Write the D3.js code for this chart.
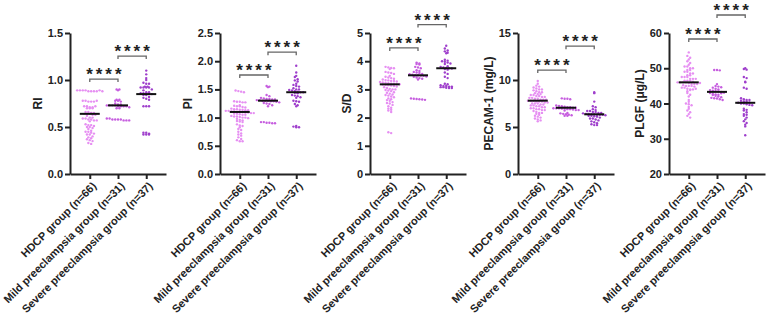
<!DOCTYPE html>
<html>
<head>
<meta charset="utf-8">
<script src="https://cdn.jsdelivr.net/npm/d3@7"></script>
<style>
  html, body { margin: 0; padding: 0; background: #fff; }
  svg { display: block; font-family: Arial, "Liberation Sans", sans-serif; }
  .axis path, .axis line { stroke: #222; stroke-width: 2; }
  .axis text { font-size: 11px; font-weight: bold; fill: #222; }
  .ytitle { font-size: 12px; font-weight: bold; fill: #222; }
  .stars { font-size: 17px; font-weight: bold; fill: #222; letter-spacing: 3px; }
</style>
</head>
<body>
<div id="chart"></div>
<script>
const categories = ["HDCP group (n=66)", "Mild preeclampsia group (n=31)", "Severe preeclampsia group (n=37)"];
const groupColors = ["#e68ff2", "#c65ddf", "#9f3fcc"];

// RI
const riHDCP = [0.89,0.89,0.89,0.89,0.88,0.88,0.88,0.88,0.89,0.88,0.78,0.78,0.77,0.77,0.77,0.78,
  0.72,0.72,0.71,0.70,0.70,0.71,0.70,0.72,0.66,0.66,0.65,0.65,0.64,0.64,0.64,0.63,0.63,0.62,
  0.60,0.60,0.59,0.59,0.58,0.58,0.57,0.57,0.56,0.53,0.52,0.52,0.51,0.50,0.50,0.49,0.48,
  0.46,0.45,0.45,0.44,0.43,0.42,0.42,0.40,0.39,0.38,0.37,0.36,0.35,0.33,0.32];
const riMild = [0.90,0.90,0.89,0.79,0.79,0.78,0.78,0.77,0.75,0.74,0.74,0.73,0.73,0.73,0.73,0.72,
  0.72,0.72,0.72,0.71,0.70,0.70,0.59,0.59,0.58,0.58,0.58,0.58,0.57,0.57,0.57];
const riSevere = [1.10,1.06,1.02,1.00,0.97,0.96,0.96,0.93,0.93,0.92,0.92,0.92,0.92,0.90,0.89,
  0.87,0.87,0.86,0.86,0.85,0.85,0.85,0.84,0.84,0.82,0.81,0.80,0.79,0.72,0.72,0.72,
  0.44,0.44,0.43,0.42,0.42,0.42];
const riMeans = [0.64, 0.73, 0.85];
const riTicks = [0, 0.5, 1.0, 1.5];

// PI
const piHDCP = [1.48,1.47,1.46,1.45,1.29,1.28,1.28,1.27,1.27,1.22,1.21,1.20,1.20,1.19,1.18,
  1.16,1.15,1.15,1.14,1.14,1.13,1.13,1.12,1.12,1.11,1.11,1.10,1.10,1.10,1.09,1.09,1.08,1.08,
  1.07,1.07,1.06,1.05,1.05,1.03,1.02,1.02,1.01,1.00,1.00,0.99,0.98,0.96,0.95,0.94,0.93,0.92,
  0.88,0.86,0.85,0.83,0.80,0.78,0.75,0.72,0.70,0.68,0.65,0.62,0.60,0.58,0.58];
const piMild = [1.56,1.55,1.54,1.40,1.38,1.35,1.34,1.33,1.33,1.32,1.32,1.31,1.31,1.30,1.30,1.30,
  1.29,1.29,1.28,1.27,1.26,1.25,1.24,1.22,1.20,0.92,0.92,0.91,0.91,0.90,0.90];
const piSevere = [1.92,1.80,1.74,1.72,1.68,1.66,1.64,1.60,1.58,1.56,1.55,1.52,1.50,1.50,1.49,
  1.48,1.47,1.46,1.45,1.45,1.44,1.43,1.40,1.39,1.38,1.36,1.35,1.30,1.29,1.28,1.24,1.22,1.20,
  0.85,0.84,0.83,0.83];
const piMeans = [1.10, 1.30, 1.45];
const piTicks = [0, 0.5, 1.0, 1.5, 2.0, 2.5];

// S/D
const sdHDCP = [3.80,3.78,3.76,3.75,3.72,3.62,3.60,3.58,3.55,3.48,3.45,3.42,3.40,3.38,3.35,3.33,
  3.32,3.30,3.30,3.28,3.26,3.25,3.24,3.22,3.20,3.20,3.18,3.18,3.17,3.16,3.15,3.14,3.12,3.10,
  3.08,3.05,3.02,3.00,2.98,2.96,2.94,2.90,2.88,2.85,2.82,2.80,2.78,2.75,2.72,2.68,2.65,2.62,
  2.60,2.55,2.52,2.50,2.45,2.40,2.35,2.32,2.28,2.25,2.20,1.48,1.45,3.00];
const sdMild = [3.95,3.92,3.90,3.88,3.80,3.78,3.75,3.68,3.65,3.62,3.60,3.58,3.55,3.54,3.52,3.50,
  3.50,3.49,3.48,3.46,3.45,3.42,3.40,3.38,3.35,2.68,2.67,2.66,2.65,2.64,2.63];
const sdSevere = [4.55,4.45,4.38,4.35,4.30,4.28,4.05,4.02,4.00,3.98,3.95,3.92,3.90,3.82,3.80,
  3.78,3.76,3.75,3.74,3.72,3.70,3.60,3.55,3.45,3.40,3.15,3.12,3.12,3.10,3.10,3.08,3.08,3.06,
  3.05,3.05,3.20,3.18];
const sdMeans = [3.18, 3.50, 3.75];
const sdTicks = [0, 1, 2, 3, 4, 5];

// PECAM-1
const pcHDCP = [9.9,9.6,9.4,9.3,9.2,9.1,9.0,9.0,8.9,8.8,8.7,8.7,8.6,8.5,8.5,8.4,8.4,8.3,8.3,8.2,
  8.2,8.1,8.1,8.0,8.0,7.9,7.9,7.9,7.8,7.8,7.8,7.7,7.7,7.7,7.6,7.6,7.5,7.5,7.5,7.4,7.4,7.3,7.3,
  7.2,7.2,7.1,7.1,7.0,7.0,6.9,6.9,6.8,6.8,6.7,6.6,6.5,6.5,6.4,6.3,6.2,6.1,6.0,5.9,5.8,5.7,5.6];
const pcMild = [8.05,8.0,8.0,7.95,7.3,7.25,7.2,7.15,7.1,7.1,7.05,7.05,7.0,7.0,7.0,6.95,6.95,6.9,
  6.9,6.85,6.8,6.8,6.75,6.5,6.45,6.4,6.35,6.3,6.25,6.2,6.2];
const pcSevere = [8.7,8.6,7.7,7.2,7.1,6.9,6.8,6.7,6.7,6.6,6.6,6.5,6.5,6.45,6.4,6.4,6.35,6.35,6.3,
  6.3,6.3,6.25,6.2,6.2,6.15,6.1,6.0,5.9,5.9,5.8,5.7,5.6,5.5,5.4,5.3,5.2,5.2];
const pcMeans = [7.8, 7.05, 6.35];
const pcTicks = [0, 5, 10, 15];

// PLGF
const plHDCP = [54.5,53.5,53,52.5,52,51.5,51,50.5,50.5,50,50,49.5,49.5,49,49,48.5,48.5,48,48,47.5,
  47.5,47.5,47,47,47,46.5,46.5,46.5,46,46,46,46,45.8,45.5,45.5,45.5,45.2,45,45,45,44.8,44.5,
  44.5,44.2,44,44,43.5,43,42.5,42,41,40.5,40,39.8,39.5,39,38.5,38,37.5,37,36.5,36,43.8,44.2,
  45.8,46.2];
const plMild = [49.5,49.5,49.4,45.5,45,44.8,44.5,44.2,44,43.8,43.6,43.5,43.4,43.3,43.2,43,42.8,
  42.6,42.5,42.4,42.2,42,41.8,41.6,41.5,41.4,41.2,41,42.9,43.1,44.6];
const plSevere = [50,49.8,49.6,47.5,47.2,46.2,46,44.5,44.2,41.5,41.2,41,41,40.8,40.6,40.5,40.3,
  40.2,40,40,39.8,39.6,39.5,38.5,38.2,38,37.5,37,36.8,36.5,36,35.5,35,34.5,34,33.5,31];
const plMeans = [46.0, 43.3, 40.2];
const plTicks = [20, 30, 40, 50, 60];

const titles = ["RI", "PI", "S/D", "PECAM-1 (mg/L)", "PLGF (\u03bcg/L)"];
// bracket heights in data units: [HDCP vs mild, mild vs severe]
const brackets = [[1.01, 1.255], [1.755, 2.16], [4.47, 5.3], [11.06, 13.6], [58.3, 65.1]];

const panels = [
  { groups: [riHDCP, riMild, riSevere], means: riMeans, ticks: riTicks, fmt: d3.format(".1f") },
  { groups: [piHDCP, piMild, piSevere], means: piMeans, ticks: piTicks, fmt: d3.format(".1f") },
  { groups: [sdHDCP, sdMild, sdSevere], means: sdMeans, ticks: sdTicks, fmt: d3.format("d") },
  { groups: [pcHDCP, pcMild, pcSevere], means: pcMeans, ticks: pcTicks, fmt: d3.format("d") },
  { groups: [plHDCP, plMild, plSevere], means: plMeans, ticks: plTicks, fmt: d3.format("d") }
];

const W = 767, H = 316;
const axisX = [70, 220, 370, 518, 669];
const plotTop = 33, plotBottom = 174, axisLen = 96;

const svg = d3.select("#chart").append("svg").attr("width", W).attr("height", H);

panels.forEach((p, pi) => {
  const x0 = axisX[pi];
  const y = d3.scaleLinear()
    .domain([p.ticks[0], p.ticks[p.ticks.length - 1]])
    .range([plotBottom, plotTop]);
  const x = d3.scalePoint().domain(categories).range([x0, x0 + axisLen]).padding(0.7);
  const g = svg.append("g");

  // dots, binned into rows and spread sideways
  p.groups.forEach((vals, gi) => {
    const bins = d3.groups(vals, v => Math.round(y(v) / 2.6));
    const pts = [];
    bins.forEach(([, vs]) => {
      vs.forEach((v, j) => pts.push({ v, off: (j - (vs.length - 1) / 2) * 2.8 }));
    });
    g.append("g").selectAll("circle").data(pts).join("circle")
      .attr("cx", d => x(categories[gi]) + d.off)
      .attr("cy", d => y(d.v))
      .attr("r", 1.2)
      .attr("fill", groupColors[gi]);
  });

  // mean lines
  g.append("g").selectAll("line").data(p.means).join("line")
    .attr("x1", (d, i) => x(categories[i]) - 10)
    .attr("x2", (d, i) => x(categories[i]) + 10)
    .attr("y1", d => y(d)).attr("y2", d => y(d))
    .attr("stroke", "#111").attr("stroke-width", 2);

  // axes
  const ya = g.append("g").attr("class", "axis").attr("transform", `translate(${x0},0)`)
    .call(d3.axisLeft(y).tickValues(p.ticks).tickFormat(p.fmt).tickSize(5).tickSizeOuter(0));
  ya.selectAll("text").attr("x", -7);

  const xa = g.append("g").attr("class", "axis").attr("transform", `translate(0,${plotBottom})`)
    .call(d3.axisBottom(x).tickSize(5).tickSizeOuter(0));
  xa.selectAll("text")
    .attr("x", 0).attr("y", 0).attr("dy", "0.35em")
    .attr("text-anchor", "end")
    .attr("transform", "translate(4,10) rotate(-45)");

  // y title
  const bb = ya.node().getBBox();
  g.append("text").attr("class", "ytitle")
    .attr("transform", `translate(${x0 + bb.x - 10},${(plotTop + plotBottom) / 2}) rotate(-90)`)
    .attr("text-anchor", "middle").attr("dy", "0.35em")
    .text(titles[pi]);

  // significance brackets
  brackets[pi].forEach((b, bi) => {
    const xa1 = x(categories[bi]), xa2 = x(categories[bi + 1]), yb = y(b);
    g.append("path")
      .attr("d", `M${xa1},${yb + 3}V${yb}H${xa2}V${yb + 3}`)
      .attr("fill", "none").attr("stroke", "#666").attr("stroke-width", 1.3);
    g.append("text").attr("class", "stars")
      .attr("x", (xa1 + xa2) / 2 + 1.5).attr("y", yb + 1)
      .attr("text-anchor", "middle")
      .text("****");
  });
});
</script>
</body>
</html>
